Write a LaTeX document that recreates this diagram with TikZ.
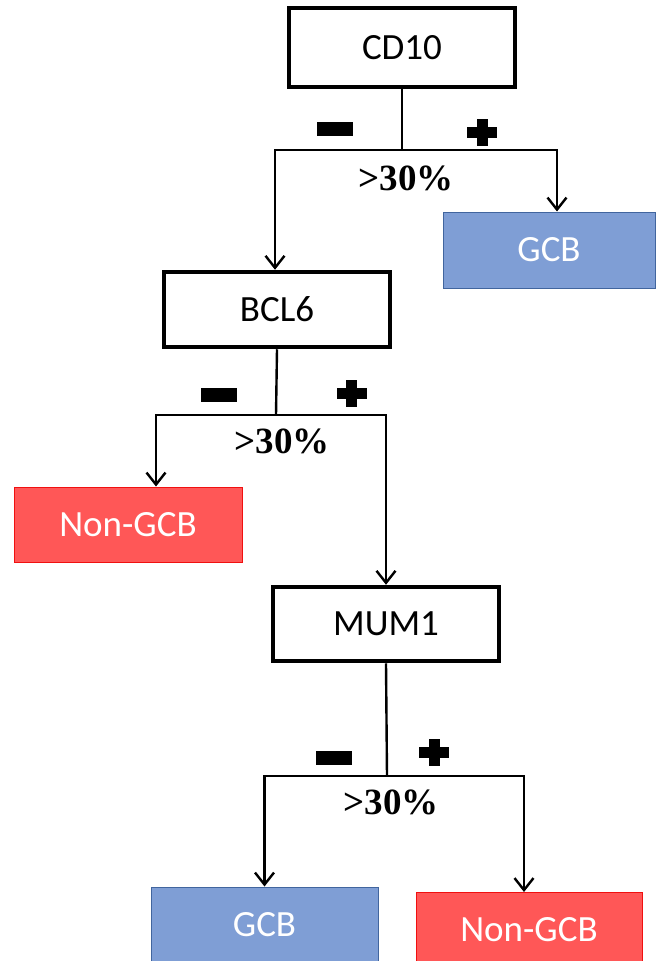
\documentclass[tikz,border=0pt]{standalone}
\usepackage{fontspec}
\setmainfont{Carlito}
\newfontfamily\pctfont{Liberation Serif}
\usetikzlibrary{arrows.meta}
\definecolor{gcbblue}{HTML}{7F9ED5}
\definecolor{gcbborder}{HTML}{41659E}
\definecolor{ngred}{HTML}{FF5757}
\definecolor{ngborder}{HTML}{F01010}
\tikzset{
  marker/.style={draw=black, line width=4.5pt, fill=white, minimum width=226pt, inner sep=0pt,
    font=\fontsize{37}{40}\selectfont, text=black},
  gcbbox/.style={draw=gcbborder, line width=1pt, fill=gcbblue, minimum width=212pt, minimum height=76pt,
    inner sep=0pt, font=\fontsize{37}{40}\selectfont, text=white},
  ngbox/.style={draw=ngborder, line width=1pt, fill=ngred, minimum width=228pt, minimum height=75pt,
    inner sep=0pt, font=\fontsize{37}{40}\selectfont, text=white},
  conn/.style={draw=black, line width=2.4pt},
  arr/.style={conn, -{Straight Barb[length=12pt,width=19pt,line width=2.4pt]}},
  pct/.style={font=\pctfont\bfseries\fontsize{37}{39}\selectfont, inner sep=0pt},
}
\newcommand{\minussign}[2]{\fill (#1-18,#2-7) rectangle (#1+18,#2+7);}
\newcommand{\plussign}[2]{\fill (#1-15,#2-5.5) rectangle (#1+15,#2+5.5); \fill (#1-5.5,#2-13.5) rectangle (#1+5.5,#2+13.5);}
\begin{document}
\begin{tikzpicture}[x=1pt,y=-1pt]
\useasboundingbox[fill=white] (0,0) rectangle (657,961);

% nodes
\node[marker, minimum height=79pt] (cd10) at (402,47.5) {CD10};
\node[gcbbox] (gcb1) at (549,250) {GCB};
\node[marker, minimum height=75pt] (bcl6) at (277,309.5) {BCL6};
\node[ngbox] (ng1) at (128,524.5) {Non-GCB};
\node[marker, minimum height=74pt] (mum1) at (386,624) {MUM1};
\node[gcbbox, minimum width=227pt] (gcb2) at (264.5,925) {GCB};
\node[ngbox, minimum width=226pt] (ng2) at (529,930) {Non-GCB};

% junctions
\coordinate (j1) at (402,150);
\coordinate (j2) at (276,415);
\coordinate (j3) at (387,776);

% connectors
\draw[conn] (cd10.south) -- (j1);
\draw[arr] (j1) -| ([xshift=-2pt]bcl6.north);
\draw[arr] (j1) -| ([xshift=8pt]gcb1.north);

\draw[conn] (bcl6.south) -- (j2);
\draw[arr] (j2) -| ([xshift=28pt]ng1.north);
\draw[arr] (j2) -| (mum1.north);

\draw[conn] (mum1.south) -- (j3);
\draw[arr] (j3) -| (gcb2.north);
\draw[arr] (j3) -| ([xshift=-5pt]ng2.north);

% threshold labels
\node[pct] (t1) at (406,178) {>30\%};
\node[pct] (t2) at (282,441) {>30\%};
\node[pct] (t3) at (391,802) {>30\%};

% signs
\minussign{335}{129}
\plussign{482}{132}
\minussign{218.5}{395}
\plussign{351.5}{393}
\minussign{334}{758}
\plussign{434}{752}
\end{tikzpicture}
\end{document}
